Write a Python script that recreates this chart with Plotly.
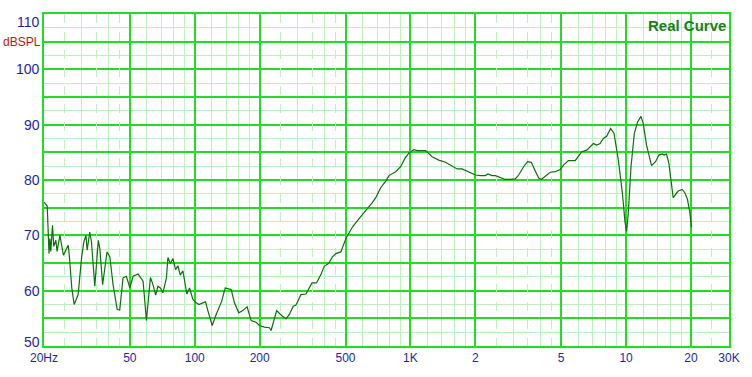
import plotly.graph_objects as go

# Frequency response (Hz, dBSPL)
freq = [20, 20.7, 21.1, 21.3, 21.5, 21.9, 22.2, 22.7, 23.0, 23.7, 24.6, 25.3, 25.9, 26.2,
        26.9, 27.6, 28.8, 29.9, 30.6, 31.3, 31.7, 32.6, 33.2, 34.4, 35.7, 36.3, 37.4, 38.3,
        39.2, 40.4, 41.8, 43.7, 44.9, 46.5, 48.2, 50.0, 51.8, 54.6, 57.6, 59.7, 60.7, 62.3,
        64.0, 65.9, 67.5, 69.3, 71.2, 73.9, 75.1, 77.1, 79.2, 81.5, 83.5, 85.7, 88.1, 89.7,
        91.9, 94.6, 98.0, 101.6, 104.5, 109.0, 112.2, 115.0, 120.5, 125.7, 133.4, 138.4,
        147.5, 152.8, 160.0, 166.9, 174.9, 182.5, 192.5, 199.4, 210.4, 221.9, 225.9, 239.8,
        251.3, 265.0, 274.5, 286.4, 294.8, 310.9, 327.9, 349.5, 366.9, 384.5, 398.3, 416.9,
        435.1, 451.1, 475.8, 501.8, 538.3, 578.0, 620.7, 666.0, 690.5, 728.3, 768.1, 795.6,
        854.2, 900.9, 943.1, 984.1, 1038, 1075, 1134, 1176, 1261, 1354, 1454, 1560, 1646,
        1736, 1865, 2002, 2112, 2227, 2289, 2390, 2478, 2612, 2756, 2907, 3065, 3175, 3348,
        3494, 3634, 3764, 3928, 4043, 4219, 4449, 4692, 4948, 5125, 5405, 5805, 6228, 6568,
        7054, 7306, 7575, 7845, 8126, 8480, 8792, 9205, 9606, 9886, 10056, 10239, 10538,
        10916, 11305, 11720, 12012, 12440, 13120, 13692, 14195, 14703, 15019, 15393, 15791,
        16532, 17437, 18195, 18727, 19253, 19752, 20085]
spl = [76.0, 75.3, 66.7, 69.4, 67.1, 71.8, 68.0, 69.1, 67.1, 70.0, 66.4, 67.3, 68.2, 66.4,
       60.5, 57.5, 59.3, 66.1, 68.8, 70.0, 67.3, 70.6, 68.8, 60.8, 69.1, 67.6, 61.1, 64.1,
       67.0, 66.1, 61.1, 56.6, 56.5, 62.3, 62.6, 60.5, 62.6, 63.0, 61.7, 54.6, 57.5, 62.4,
       61.1, 59.2, 60.8, 60.5, 59.6, 62.3, 66.0, 64.9, 65.8, 63.8, 64.5, 62.8, 63.6, 61.7,
       59.4, 60.5, 58.4, 57.8, 57.5, 57.8, 58.0, 56.4, 53.7, 55.7, 58.1, 60.5,
       60.2, 57.8, 56.0, 56.4, 57.1, 54.6, 54.3, 53.7, 53.4, 53.3, 52.8, 56.4,
       55.6, 54.9, 55.7, 57.2, 57.4, 59.3, 59.4, 61.4, 61.4, 62.9, 64.4, 64.9,
       66.1, 66.7, 67.0, 69.4, 71.5, 73.0, 74.4, 75.9, 76.8, 78.6, 79.8, 80.8,
       81.5, 82.4, 83.9, 84.9, 85.5, 85.3, 85.3, 85.3, 84.2, 83.6, 83.2, 82.6, 82.0,
       82.0, 81.5, 80.9, 80.8, 80.8, 81.1, 80.8, 80.8, 80.4, 80.1, 80.1, 80.2, 80.9, 82.4,
       83.3, 83.2, 81.9, 80.4, 80.1, 80.7, 81.4, 81.5, 81.9, 82.7, 83.5, 83.5, 85.1, 85.4,
       86.6, 86.3, 86.6, 87.5, 87.9, 89.3, 88.4, 83.6, 77.7, 72.4, 70.7, 74.1, 82.4,
       88.4, 90.5, 91.5, 90.2, 86.3, 82.6, 83.3, 84.5, 84.7, 84.5, 84.7, 83.0,
       76.8, 78.0, 78.3, 77.7, 76.5, 74.1, 71.5]

x_major = [20, 50, 100, 200, 500, 1000, 2000, 5000, 10000, 20000, 30000]
x_labels = ["20Hz", "50", "100", "200", "500", "1K", "2", "5", "10", "20", "30K"]
x_minor = [30, 40, 60, 70, 80, 90, 120, 140, 160, 180, 300, 400, 600, 700, 800, 900,
           1200, 1400, 1600, 1800, 3000, 4000, 6000, 7000, 8000, 9000, 12000, 14000,
           16000, 18000]
x_dashed = [25, 35, 45, 250, 350, 450, 2500, 3500, 4500, 25000]
y_major = [50, 55, 60, 65, 70, 75, 80, 85, 90, 95, 100, 105, 110]
y_minor = [52.5, 57.5, 62.5, 67.5, 72.5, 77.5, 82.5, 87.5, 92.5, 97.5, 102.5, 107.5]
y_labels = [110, 100, 90, 80, 70, 60, 50]

MAJOR = "#22dd22"
MINOR = "#bff0bf"
LABEL = "#1f1fa8"
xr = [1.30103, 4.4771213]

fig = go.Figure()
fig.add_trace(go.Scatter(x=[100, 1000], y=[80, 80], xaxis="x2", mode="lines",
                         line=dict(width=0), hoverinfo="skip", showlegend=False))
fig.add_trace(go.Scatter(x=freq, y=spl, mode="lines",
                         line=dict(color="#0d6e0d", width=1.2), showlegend=False))

fig.update_layout(
    width=752, height=377,
    margin=dict(l=44, r=21, t=12, b=28),
    paper_bgcolor="white", plot_bgcolor="white",
    xaxis=dict(type="log", range=xr, tickvals=x_major, ticktext=x_labels,
               showgrid=True, gridcolor=MAJOR, gridwidth=1.5,
               minor=dict(tickvals=x_minor, showgrid=True, gridcolor=MINOR, gridwidth=1),
               showline=True, linecolor=MAJOR, linewidth=1.5, mirror=True,
               ticks="", zeroline=False,
               tickfont=dict(family="Liberation Sans, Arial", size=12, color=LABEL)),
    xaxis2=dict(type="log", range=xr, overlaying="x", showgrid=True, gridcolor=MINOR,
                griddash="dash", gridwidth=1, tickvals=x_dashed, showticklabels=False,
                ticks="", zeroline=False, showline=False),
    yaxis=dict(range=[50, 110], tickvals=y_major, showticklabels=False,
               showgrid=True, gridcolor=MAJOR, gridwidth=1.5,
               minor=dict(tickvals=y_minor, showgrid=True, gridcolor=MINOR, gridwidth=1),
               showline=True, linecolor=MAJOR, linewidth=1.5, mirror=True,
               ticks="", zeroline=False),
)

for v in y_labels:
    shift = -8 if v == 110 else (4 if v == 50 else 0)
    fig.add_annotation(x=0, xref="paper", y=v, yref="y", text=str(v), showarrow=False,
                       xanchor="right", yanchor="middle", xshift=-2, yshift=shift,
                       font=dict(family="Liberation Sans, Arial", size=14, color=LABEL))
fig.add_annotation(x=0, xref="paper", y=105, yref="y", text="dBSPL", showarrow=False,
                   xanchor="right", yanchor="middle", xshift=-1,
                   font=dict(family="Liberation Sans, Arial", size=12, color="#cc1111"))
fig.add_annotation(x=1, xref="paper", y=1, yref="paper", text="<b>Real Curve</b>",
                   showarrow=False, xanchor="right", yanchor="top", xshift=-1, yshift=-1,
                   font=dict(family="Liberation Sans, Arial", size=15, color="#1a7f1a"))

fig.write_html("out.html")
